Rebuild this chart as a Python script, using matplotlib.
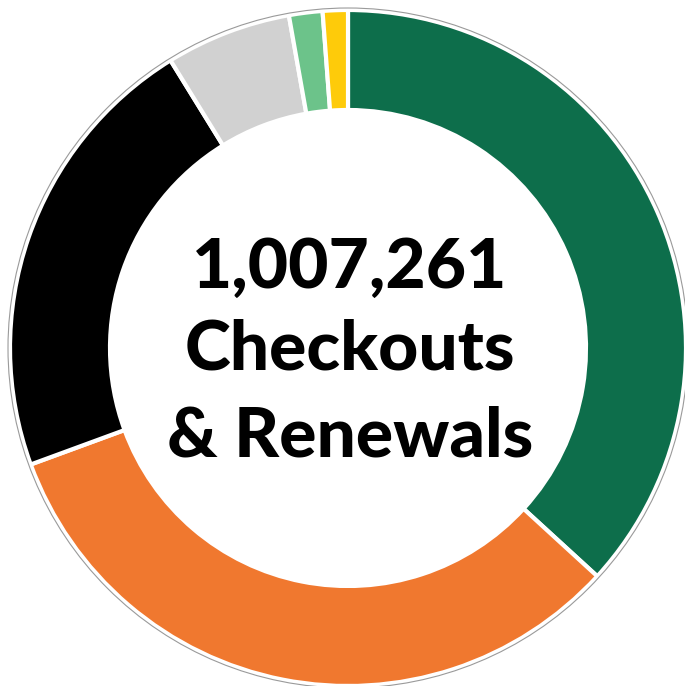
import matplotlib
matplotlib.use("Agg")
import matplotlib.pyplot as plt
import matplotlib.patches as mpatches

# Share of checkouts & renewals (percent)
categories = ["Print", "Digital", "Media", "Other", "Equipment", "Misc"]
shares = [36.8, 32.6, 21.8, 6.0, 1.6, 1.2]
colors = ["#0d6e4b", "#f0782f", "#000000", "#d1d1d1", "#6cc38a", "#fecb0a"]
center_lines = ["1,007,261", "Checkouts", "& Renewals"]

W, H = 685, 686
fig = plt.figure(figsize=(W / 100, H / 100), dpi=100)
ax = fig.add_axes([0, 0, 1, 1])

cx, cy, r = 348, H - 348, 338
ring = 100

ax.pie(shares, colors=colors, startangle=90, counterclock=False,
       center=(cx, cy), radius=r, frame=True,
       wedgeprops=dict(width=ring, edgecolor="white", linewidth=3))
ax.add_patch(mpatches.Circle((cx, cy), r + 2, fill=False,
                             edgecolor="#9a9a9a", linewidth=0.8))
ax.set_xlim(0, W)
ax.set_ylim(0, H)
ax.axis("off")

ys = [H - 268, H - 350, H - 437]
for txt, y in zip(center_lines, ys):
    ax.text(cx + 2, y, txt, ha="center", va="center", fontsize=50,
            fontweight="black", family=["Lato", "DejaVu Sans"], color="black")

fig.savefig("out.png", dpi=100)
